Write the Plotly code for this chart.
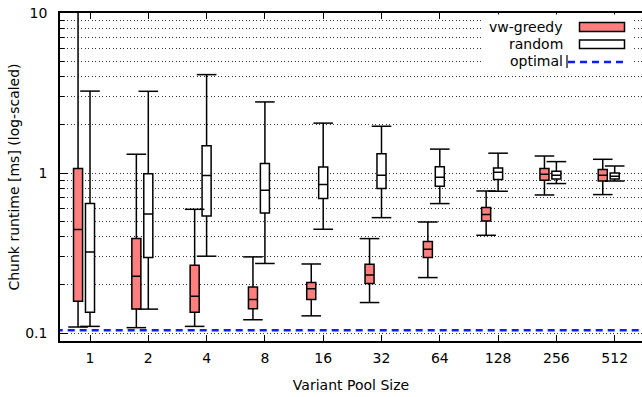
import plotly.graph_objects as go

# ---------------- data ----------------
pool_sizes = ["1", "2", "4", "8", "16", "32", "64", "128", "256", "512"]

greedy_low = [0.109, 0.108, 0.110, 0.121, 0.128, 0.155, 0.222, 0.408, 0.729, 0.733]
greedy_q1 = [0.158, 0.141, 0.135, 0.142, 0.162, 0.204, 0.296, 0.501, 0.900, 0.891]
greedy_med = [0.443, 0.226, 0.170, 0.162, 0.189, 0.230, 0.334, 0.550, 0.982, 0.967]
greedy_q3 = [1.065, 0.389, 0.265, 0.194, 0.2065, 0.269, 0.373, 0.608, 1.065, 1.050]
greedy_high = [15.0, 1.31, 0.593, 0.299, 0.270, 0.389, 0.494, 0.772, 1.277, 1.218]

random_low = [0.110, 0.141, 0.302, 0.272, 0.445, 0.526, 0.644, 0.769, 0.859, 0.891]
random_q1 = [0.135, 0.296, 0.539, 0.562, 0.692, 0.799, 0.826, 0.910, 0.917, 0.917]
random_med = [0.321, 0.554, 0.963, 0.780, 0.846, 0.967, 0.940, 1.010, 0.967, 0.954]
random_q3 = [0.644, 0.991, 1.480, 1.145, 1.090, 1.320, 1.096, 1.075, 1.025, 1.000]
random_high = [3.25, 3.24, 4.12, 2.78, 2.05, 1.96, 1.41, 1.33, 1.178, 1.106]

optimal = 0.104

y_ticks = [0.1, 1, 10]
y_ticktext = ["0.1", "1", "10"]

# ---------------- layout constants ----------------
W, H = 642, 397
ML, MR, MT, MB = 60, 0, 13, 56
PW, PH = W - ML - MR, H - MT - MB
FONT = "DejaVu Sans, Verdana, sans-serif"
RED = "#ff7f7f"
BLUE = "#0a1eff"
GRID = "#333333"
GDASH = "1px,2.5px"
BOX_W = 0.155
RED_OFF = -0.205

idx = list(range(len(pool_sizes)))
x_red = [i + RED_OFF for i in idx]
x_white = [i for i in idx]

fig = go.Figure()

fig.add_trace(go.Box(
    x=x_red, q1=greedy_q1, median=greedy_med, q3=greedy_q3,
    lowerfence=greedy_low, upperfence=greedy_high,
    width=BOX_W, fillcolor=RED, line=dict(color="black", width=1.5),
    whiskerwidth=0, boxpoints=False, showlegend=False, name="vw-greedy"))
fig.add_trace(go.Box(
    x=x_white, q1=random_q1, median=random_med, q3=random_q3,
    lowerfence=random_low, upperfence=random_high,
    width=BOX_W, fillcolor="white", line=dict(color="black", width=1.5),
    whiskerwidth=0, boxpoints=False, showlegend=False, name="random"))

# whisker caps
for xs, lo, hi in ((x_red, greedy_low, greedy_high), (x_white, random_low, random_high)):
    fig.add_trace(go.Scatter(
        x=xs + xs, y=lo + hi, mode="markers",
        marker=dict(symbol="line-ew", size=14, line=dict(color="black", width=1.5)),
        showlegend=False, hoverinfo="skip"))

# optimal line
fig.add_trace(go.Scatter(
    x=[-1, len(pool_sizes)], y=[optimal, optimal], mode="lines",
    line=dict(color=BLUE, width=2.6, dash="7px,5px"),
    showlegend=False, hoverinfo="skip"))

minor_vals = [m * d for d in (0.01, 0.1, 1) for m in range(2, 10)]

xmin = -30 / 58.3
xmax = xmin + PW / 58.3

fig.update_layout(
    width=W, height=H,
    margin=dict(l=ML, r=MR, t=MT, b=MB),
    paper_bgcolor="white", plot_bgcolor="white",
    font=dict(family=FONT, size=14, color="black"),
    boxmode="overlay",
    xaxis=dict(
        range=[xmin, xmax], tickmode="array", tickvals=idx, ticktext=pool_sizes,
        showgrid=False, zeroline=False, showline=True, linecolor="black", linewidth=1.5,
        mirror="ticks", ticks="inside", ticklen=6, tickcolor="black", tickwidth=1,
        ticklabelstandoff=3,
        title=dict(text="Variant Pool Size", standoff=16, font=dict(size=14)),
    ),
    yaxis=dict(
        type="log", range=[-1.05, 1], tickmode="array", tickvals=y_ticks, ticktext=y_ticktext,
        showgrid=True, gridcolor=GRID, griddash=GDASH, gridwidth=1,
        zeroline=False, showline=True, linecolor="black", linewidth=1.5,
        ticks="inside", ticklen=8, tickcolor="black", tickwidth=1,
        ticklabelstandoff=8,
        minor=dict(tickmode="array", tickvals=minor_vals, ticks="inside", ticklen=4,
                   tickcolor="black", showgrid=True, gridcolor=GRID, griddash=GDASH, gridwidth=1),
        title=dict(text="Chunk runtime [ms] (log-scaled)", standoff=2, font=dict(size=14)),
    ),
)


def px(xp):
    return (xp - ML) / PW


def py(yp):
    return (MT + PH - yp) / PH


shapes = [
    # legend background
    dict(type="rect", xref="paper", yref="paper", x0=px(482), x1=px(634), y0=py(70), y1=py(14.5),
         fillcolor="white", line=dict(width=0), layer="above"),
    dict(type="rect", xref="paper", yref="paper", x0=px(579.5), x1=px(624.5), y0=py(31.5), y1=py(22.5),
         fillcolor=RED, line=dict(color="black", width=1.5), layer="above"),
    dict(type="rect", xref="paper", yref="paper", x0=px(579.5), x1=px(624.5), y0=py(48.5), y1=py(40),
         fillcolor="white", line=dict(color="black", width=1.5), layer="above"),
    dict(type="line", xref="paper", yref="paper", x0=px(568), x1=px(624), y0=py(62), y1=py(62),
         line=dict(color=BLUE, width=2.6, dash="7px,5px"), layer="above"),
    dict(type="line", xref="paper", yref="paper", x0=px(567), x1=px(567), y0=py(55), y1=py(68),
         line=dict(color="black", width=1.2), layer="above"),
]
fig.update_layout(shapes=shapes)

legend_items = [("vw-greedy", 27), ("random", 44), ("optimal", 61.5)]
for txt, yy in legend_items:
    fig.add_annotation(text=txt, xref="paper", yref="paper", x=px(565), y=py(yy),
                       xanchor="right", yanchor="middle", showarrow=False,
                       font=dict(family=FONT, size=14, color="black"))

fig.write_html("out.html")
